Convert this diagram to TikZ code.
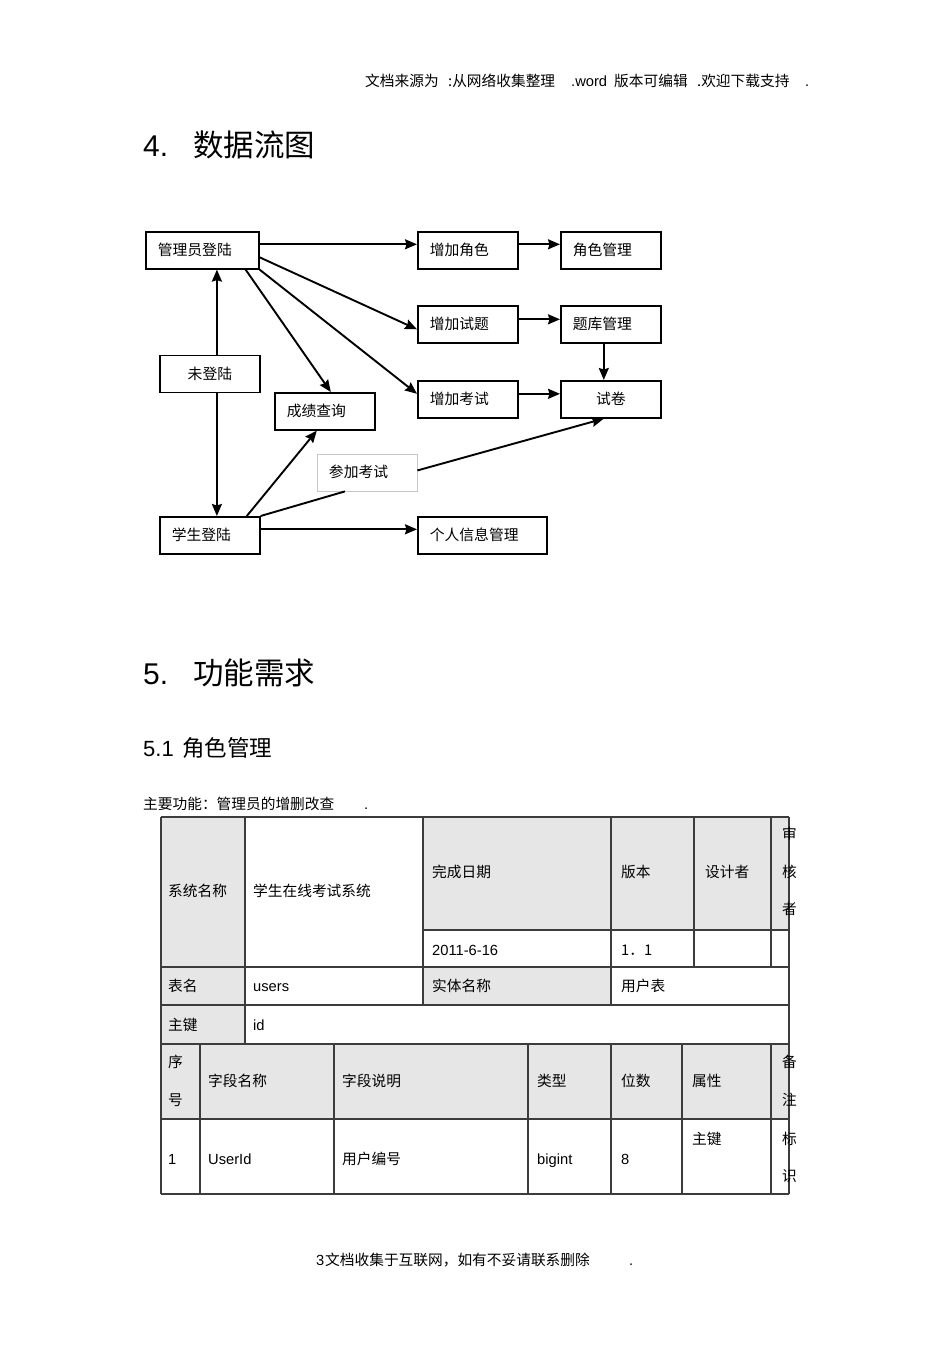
\documentclass[tikz,border=0pt]{standalone}
\usepackage{fontspec}
\setmainfont{Liberation Sans}
\newfontfamily\cjk{Noto Sans CJK SC}
\usetikzlibrary{arrows.meta}

\definecolor{cellgray}{HTML}{E6E6E6}
\definecolor{rulegray}{HTML}{3C3C3C}

\tikzset{
  blk/.style={draw, line width=1.6pt, anchor=north west, minimum height=37pt,
    inner xsep=12pt, inner ysep=0pt, text width=#1, align=left,
    text height=11pt, text depth=0pt, font=\cjk\fontsize{14.8}{16}\selectfont},
  flow/.style={line width=1.9pt, -{Stealth[length=12pt,width=10pt,inset=1.5pt]}},
  txt/.style={anchor=west, inner sep=0pt, text height=11pt, text depth=0pt,
    font=\cjk\fontsize{14.7}{16}\selectfont},
  lat/.style={txt, font=\fontsize{14.7}{16}\selectfont},
  gridline/.style={line width=1.3pt, rulegray},
}

\begin{document}
\begin{tikzpicture}[x=1pt, y=-1pt]
    \useasboundingbox[fill=white] (0,0) rectangle (950,1345);

    % Cabecera
    \node[txt] (hd1) at (365,81) {文档来源为};
    \node[txt] (hd2) at (448,81) {:从网络收集整理};
    \node[lat] (hd3) at (571,81) {.word};
    \node[txt] (hd4) at (614,81) {版本可编辑};
    \node[txt] (hd5) at (697,81) {.欢迎下载支持};
    \node[lat] (hd6) at (805,81) {.};

    % Titulo 4
    \node[lat, font=\fontsize{30}{34}\selectfont, text height=22pt] (n4) at (143,145) {4.};
    \node[txt, font=\cjk\fontsize{30.5}{34}\selectfont, text height=23pt] (t4) at (193,145) {数据流图};

    % Cajas
    \node[blk=89] (admin) at (145,231) {管理员登陆};
    \node[blk=76] (addrole) at (417,231) {增加角色};
    \node[blk=76] (rolemgr) at (560,231) {角色管理};
    \node[blk=76] (addq) at (417,305) {增加试题};
    \node[blk=76] (bank) at (560,305) {题库管理};
    \node[blk=76, align=center, line width=1.8pt] (notlog) at (159,354.5) {未登陆};
    \node[blk=76] (score) at (274,392) {成绩查询};
    \node[blk=76] (adde) at (417,380) {增加考试};
    \node[blk=76, align=center] (paper) at (560,380) {试卷};
    \node[blk=76, draw=black!22, line width=0.9pt] (join) at (316.5,453.5) {参加考试};
    \node[blk=76] (stu) at (159,516) {学生登陆};
    \node[blk=105] (info) at (417,516) {个人信息管理};

    % Flechas
    \draw[flow] ([yshift=6pt]admin.east) -- ([yshift=6pt]addrole.west);
    \draw[flow] ([yshift=6pt]addrole.east) -- ([yshift=6pt]rolemgr.west);
    \draw[flow] ([yshift=-7pt]admin.east) -- ([yshift=-5pt]addq.west);
    \draw[flow] (admin.south east) -- ([yshift=5.5pt]adde.west);
    \draw[flow] ([xshift=-14pt]admin.south east) -- ([xshift=6pt]score.north);
    \draw[flow] ([xshift=7pt]notlog.north) -- ([xshift=7pt]notlog.north |- admin.south);
    \draw[flow] ([xshift=7pt]notlog.south) -- ([xshift=7pt]notlog.south |- stu.north);
    \draw[flow] ([xshift=37pt]stu.north) -- ([xshift=-8pt]score.south);
    \draw[line width=1.9pt] (stu.north east) -- ([xshift=-22pt]join.south);
    \draw[flow] ([yshift=2pt]join.east) -- ([xshift=-7pt]paper.south);
    \draw[flow] ([yshift=5pt]addq.east) -- ([yshift=5pt]bank.west);
    \draw[flow] ([xshift=-7pt]bank.south) -- ([xshift=-7pt]paper.north);
    \draw[flow] ([yshift=5.5pt]adde.east) -- ([yshift=5.5pt]paper.west);
    \draw[flow] ([yshift=6pt]stu.east) -- ([yshift=6pt]info.west);

    % Titulo 5
    \node[lat, font=\fontsize{30}{34}\selectfont, text height=22pt] (n5) at (143,673) {5.};
    \node[txt, font=\cjk\fontsize{30.5}{34}\selectfont, text height=23pt] (t5) at (193,673) {功能需求};
    \node[lat, font=\fontsize{22}{26}\selectfont, text height=16pt] (n51) at (143,748) {5.1};
    \node[txt, font=\cjk\fontsize{22.5}{26}\selectfont, text height=17pt] (t51) at (182,748) {角色管理};
    \node[txt] (func) at (143,804) {主要功能：管理员的增删改查};
    \node[lat] (dot) at (364,804) {.};

    % Tabla: fondos
    \fill[cellgray] (161,817) rectangle (245,967);
    \fill[cellgray] (423,817) rectangle (789,930);
    \fill[cellgray] (161,967) rectangle (245,1044);
    \fill[cellgray] (423,967) rectangle (611,1005);
    \fill[cellgray] (161,1044) rectangle (789,1119);

    % Tabla: lineas
    \draw[gridline] (161,817) -- (789,817);
    \draw[gridline] (423,930) -- (789,930);
    \draw[gridline] (161,967) -- (789,967);
    \draw[gridline] (161,1005) -- (789,1005);
    \draw[gridline] (161,1044) -- (789,1044);
    \draw[gridline] (161,1119) -- (789,1119);
    \draw[gridline] (161,1194) -- (789,1194);
    \draw[gridline] (161,817) -- (161,1194);
    \draw[gridline] (789,817) -- (789,1194);
    \draw[gridline] (245,817) -- (245,1044);
    \draw[gridline] (423,817) -- (423,1005);
    \draw[gridline] (611,817) -- (611,1005);
    \draw[gridline] (694,817) -- (694,967);
    \draw[gridline] (771,817) -- (771,967);
    \foreach \cx in {200,334,528,611,682,771}
        \draw[gridline] (\cx,1044) -- (\cx,1194);

    % Tabla: textos
    \node[txt] (sysname) at (168,891) {系统名称};
    \node[txt] (sysval) at (253,891) {学生在线考试系统};
    \node[txt] (date) at (432,872) {完成日期};
    \node[txt] (ver) at (621,872) {版本};
    \node[txt] (designer) at (705,872) {设计者};
    \node[txt] (rev1) at (782,834) {审};
    \node[txt] (rev2) at (782,872) {核};
    \node[txt] (rev3) at (782,909) {者};
    \node[lat] (dateval) at (432,950) {2011-6-16};
    \node[txt] (verval) at (621,950) {1．1};
    \node[txt] (tname) at (168,986) {表名};
    \node[lat] (tval) at (253,986) {users};
    \node[txt] (ename) at (432,986) {实体名称};
    \node[txt] (eval) at (621,986) {用户表};
    \node[txt] (pkey) at (168,1025) {主键};
    \node[lat] (pval) at (253,1025) {id};
    \node[txt] (no1) at (168,1062) {序};
    \node[txt] (no2) at (168,1100) {号};
    \node[txt] (fname) at (208,1081) {字段名称};
    \node[txt] (fdesc) at (342,1081) {字段说明};
    \node[txt] (ftype) at (537,1081) {类型};
    \node[txt] (fbits) at (621,1081) {位数};
    \node[txt] (fattr) at (692,1081) {属性};
    \node[txt] (note1) at (782,1062) {备};
    \node[txt] (note2) at (782,1100) {注};
    \node[lat] (r1no) at (168,1159) {1};
    \node[lat] (r1name) at (208,1159) {UserId};
    \node[txt] (r1desc) at (342,1159) {用户编号};
    \node[lat] (r1type) at (537,1159) {bigint};
    \node[lat] (r1bits) at (621,1159) {8};
    \node[txt] (r1attr) at (692,1139) {主键};
    \node[txt] (r1note1) at (782,1139) {标};
    \node[txt] (r1note2) at (782,1176) {识};

    % Pie
    \node[lat] (pg) at (316,1260) {3};
    \node[txt] (foot) at (325,1260) {文档收集于互联网，如有不妥请联系删除};
    \node[lat] (fdot) at (629,1260) {.};
\end{tikzpicture}
\end{document}
